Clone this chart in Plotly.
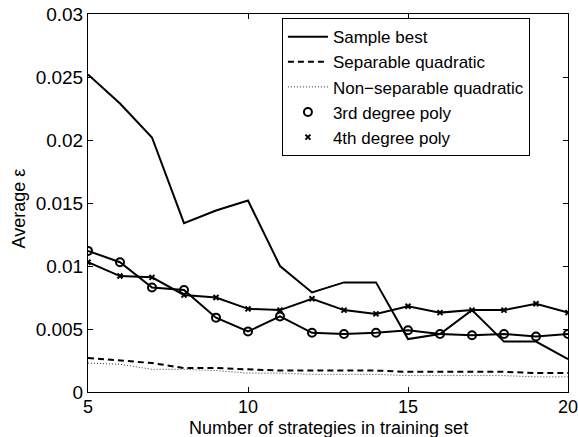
import plotly.graph_objects as go

x = list(range(5, 21))
sample_best = [0.0252, 0.0229, 0.0202, 0.0134, 0.0144, 0.0152, 0.0100, 0.0079, 0.0087, 0.0087,
               0.0042, 0.0046, 0.0065, 0.0040, 0.0040, 0.0026]
separable = [0.0027, 0.0025, 0.0023, 0.0019, 0.0019, 0.0018, 0.0017, 0.0017, 0.0017, 0.0017,
             0.0016, 0.0016, 0.0016, 0.0016, 0.0015, 0.0015]
nonseparable = [0.0023, 0.0022, 0.0018, 0.0018, 0.0017, 0.0015, 0.0015, 0.0014, 0.0014, 0.0014,
                0.0013, 0.0013, 0.0013, 0.0013, 0.0012, 0.0012]
poly3 = [0.0112, 0.0103, 0.0083, 0.0081, 0.0059, 0.0048, 0.0060, 0.0047, 0.0046, 0.0047,
         0.0049, 0.0046, 0.0045, 0.0046, 0.0044, 0.0046]
poly4 = [0.0103, 0.0092, 0.0091, 0.0077, 0.0075, 0.0066, 0.0065, 0.0074, 0.0065, 0.0062,
         0.0068, 0.0063, 0.0065, 0.0065, 0.0070, 0.0063]

y_ticks = [0, 0.005, 0.01, 0.015, 0.02, 0.025, 0.03]
y_tick_labels = ["0", "0.005", "0.01", "0.015", "0.02", "0.025", "0.03"]
x_ticks = [5, 10, 15, 20]
x_title = "Number of strategies in training set"
y_title = "Average \u03b5"

FONT = "Liberation Sans, Arial, Helvetica, sans-serif"

fig = go.Figure()
fig.add_trace(go.Scatter(x=x, y=sample_best, mode="lines", name="Sample best",
                         line=dict(color="black", width=2)))
fig.add_trace(go.Scatter(x=x, y=separable, mode="lines", name="Separable quadratic",
                         line=dict(color="black", width=2, dash="6px,4px")))
fig.add_trace(go.Scatter(x=x, y=nonseparable, mode="lines", name="Non\u2212separable quadratic",
                         line=dict(color="#333333", width=1, dash="1px,2px")))
# lines for poly series (no legend)
fig.add_trace(go.Scatter(x=x, y=poly3, mode="lines", showlegend=False,
                         line=dict(color="black", width=2)))
fig.add_trace(go.Scatter(x=x, y=poly4, mode="lines", showlegend=False,
                         line=dict(color="black", width=2)))
fig.add_trace(go.Scatter(x=x, y=poly3, mode="markers", name="3rd degree poly",
                         marker=dict(symbol="circle-open", size=8, color="black",
                                     line=dict(width=2, color="black"))))
fig.add_trace(go.Scatter(x=x, y=poly4, mode="markers", name="4th degree poly",
                         marker=dict(symbol="x-thin-open", size=5, color="black",
                                     line=dict(width=2, color="black"))))

fig.update_layout(
    width=578, height=437,
    margin=dict(l=88, r=10, t=14, b=45),
    paper_bgcolor="white", plot_bgcolor="white",
    font=dict(family=FONT, size=18, color="black"),
    showlegend=True,
    legend=dict(x=0.404, y=0.989, xanchor="left", yanchor="top",
                bordercolor="black", borderwidth=1, bgcolor="white",
                font=dict(size=17), tracegroupgap=0, itemwidth=40),
    annotations=[
        dict(text=x_title, xref="paper", yref="paper", x=0.5, y=-0.094,
             xanchor="center", yanchor="middle", showarrow=False, font=dict(size=18)),
        dict(text=y_title, xref="paper", yref="paper", x=-0.144, y=0.485,
             xanchor="center", yanchor="middle", showarrow=False, textangle=-90,
             font=dict(size=18)),
    ],
)
fig.update_xaxes(range=[5, 20], tickvals=x_ticks, ticks="inside", ticklen=5,
                 showgrid=False, zeroline=False, showline=True, linecolor="black",
                 linewidth=1, mirror="ticks", tickcolor="black", automargin=False,
                 ticklabeloverflow="allow", ticklabelstandoff=-2, tickfont=dict(size=18))
fig.update_yaxes(range=[0, 0.03], tickvals=y_ticks, ticktext=y_tick_labels, ticks="inside",
                 ticklen=5, showgrid=False, zeroline=False, showline=True, linecolor="black",
                 linewidth=1, mirror="ticks", tickcolor="black", automargin=False,
                 ticklabeloverflow="allow", tickfont=dict(size=19))

fig.write_html("out.html", config={"displayModeBar": False},
               post_script="document.body.style.margin='0px';")
